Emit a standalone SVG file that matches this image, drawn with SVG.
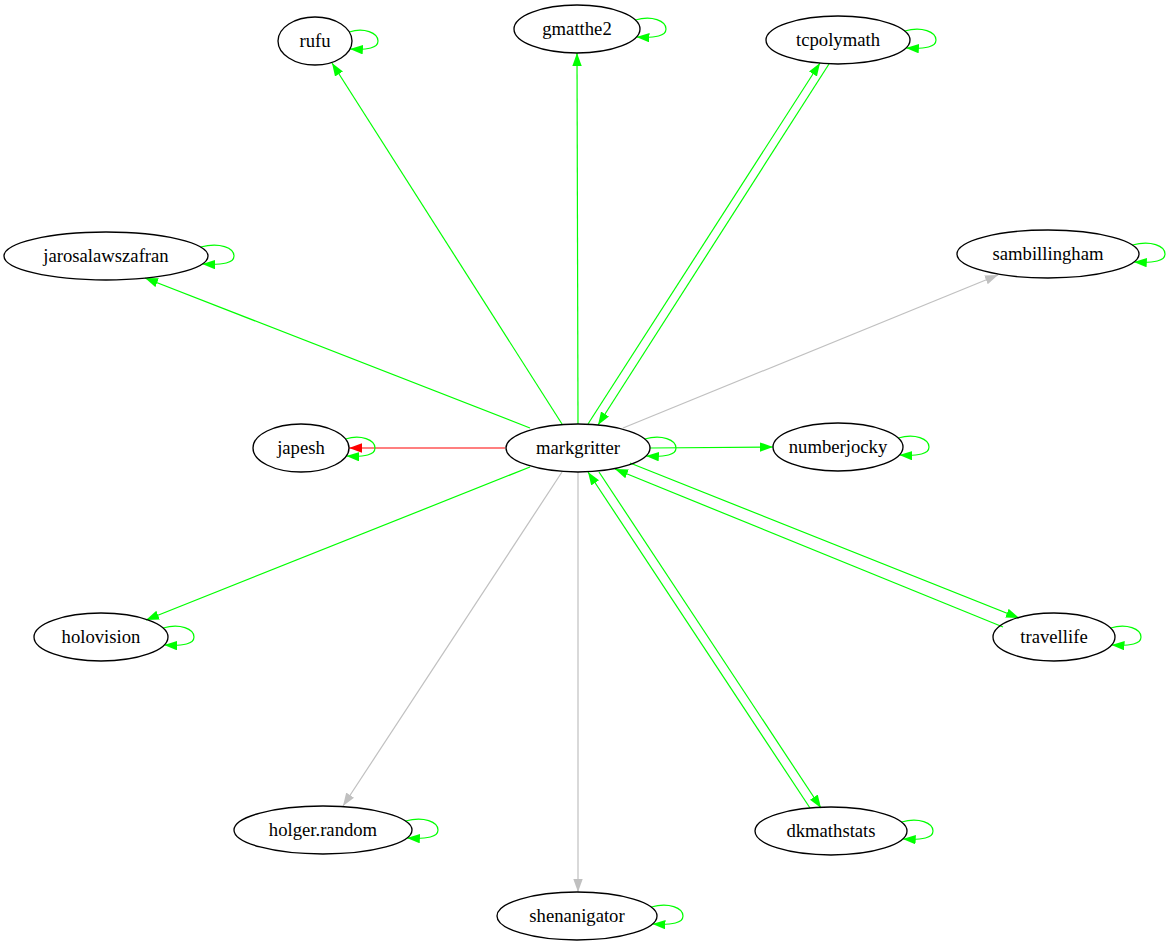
<svg xmlns="http://www.w3.org/2000/svg" width="1169" height="945" viewBox="0 0 1169 945">
<style>
.n ellipse{fill:none;stroke:#000;stroke-width:1.33}
.n text{font-family:"Liberation Serif","Times New Roman",serif;font-size:18.67px;text-anchor:middle;fill:#000}
.g{stroke:#00ff00;stroke-width:1.2;fill:none;marker-end:url(#ag)}
.r{stroke:#ff0000;stroke-width:1.2;fill:none;marker-end:url(#ar)}
.y{stroke:#c0c0c0;stroke-width:1.2;fill:none;marker-end:url(#ay)}
</style>
<defs>
<marker id="ag" markerUnits="userSpaceOnUse" markerWidth="14" markerHeight="10" refX="13" refY="4.7" orient="auto"><path d="M0,0 L13,4.7 L0,9.4 z" fill="#00ff00"/></marker>
<marker id="ar" markerUnits="userSpaceOnUse" markerWidth="14" markerHeight="10" refX="13" refY="4.7" orient="auto"><path d="M0,0 L13,4.7 L0,9.4 z" fill="#ff0000"/></marker>
<marker id="ay" markerUnits="userSpaceOnUse" markerWidth="14" markerHeight="10" refX="13" refY="4.7" orient="auto"><path d="M0,0 L13,4.7 L0,9.4 z" fill="#c0c0c0"/></marker>
</defs>
<rect width="1169" height="945" fill="#fff"/>
<g id="connectors">
<path class="g" d="M562,424 L332,63"/>
<path class="g" d="M578,424 L577,53"/>
<path class="g" d="M588,424 L820,63"/>
<path class="g" d="M829,64 L598,425"/>
<path class="g" d="M530,428 L145,278"/>
<path class="y" d="M623,428 L998,275"/>
<path class="r" d="M505,448 L349,448"/>
<path class="g" d="M650,448 L773,447"/>
<path class="g" d="M530,467 L146,620"/>
<path class="y" d="M562,472 L343,806"/>
<path class="y" d="M578,472 L578,892"/>
<path class="g" d="M599,472 L821,808"/>
<path class="g" d="M810,808 L588,472"/>
<path class="g" d="M630,463 L1019,618"/>
<path class="g" d="M1003,627 L615,469"/>
<path class="g" d="M644.7,439 C662,434 676,440 676,448 C676,455 666,457 645.9,456"/>
<path class="g" d="M345.5,439 C361,434 375,440 375,448 C375,455 365,457 346.3,456"/>
<path class="g" d="M349.3,32 C364,27 378,33 378,41 C378,48 368,50 349.9,49"/>
<path class="g" d="M635.4,20 C652,15 666,21 666,29 C666,36 656,38 636.4,37"/>
<path class="g" d="M904.7,31 C922,26 936,32 936,40 C936,47 926,49 905.9,48"/>
<path class="g" d="M200.6,247 C220,242 234,248 234,256 C234,263 224,265 202.2,264"/>
<path class="g" d="M1132.4,245 C1151,240 1165,246 1165,254 C1165,261 1155,263 1133.8,262"/>
<path class="g" d="M898.3,438 C915,433 929,439 929,447 C929,454 919,456 899.3,455"/>
<path class="g" d="M163.1,628 C180,623 194,629 194,637 C194,644 184,646 164.2,645"/>
<path class="g" d="M1110.5,628 C1127,623 1141,629 1141,637 C1141,644 1131,646 1111.5,645"/>
<path class="g" d="M405.5,821 C424,816 438,822 438,830 C438,837 428,839 406.9,838"/>
<path class="g" d="M901.5,822 C919,817 933,823 933,831 C933,838 923,840 902.7,839"/>
<path class="g" d="M651.2,907 C669,902 683,908 683,916 C683,923 673,925 652.4,924"/>
</g>
<g id="markgritter" class="n"><ellipse cx="578" cy="448" rx="72" ry="24"/><text x="578" y="454">markgritter</text></g>
<g id="japesh" class="n"><ellipse cx="301" cy="448" rx="48" ry="24"/><text x="301" y="454">japesh</text></g>
<g id="rufu" class="n"><ellipse cx="315" cy="41" rx="37" ry="24"/><text x="315" y="47">rufu</text></g>
<g id="gmatthe2" class="n"><ellipse cx="577" cy="29" rx="63" ry="24"/><text x="577" y="35">gmatthe2</text></g>
<g id="tcpolymath" class="n"><ellipse cx="838" cy="40" rx="72" ry="24"/><text x="838" y="46">tcpolymath</text></g>
<g id="jarosalawszafran" class="n"><ellipse cx="106" cy="256" rx="102" ry="24"/><text x="106" y="262">jarosalawszafran</text></g>
<g id="sambillingham" class="n"><ellipse cx="1048" cy="254" rx="91" ry="24"/><text x="1048" y="260">sambillingham</text></g>
<g id="numberjocky" class="n"><ellipse cx="838" cy="447" rx="65" ry="24"/><text x="838" y="453">numberjocky</text></g>
<g id="holovision" class="n"><ellipse cx="101" cy="637" rx="67" ry="24"/><text x="101" y="643">holovision</text></g>
<g id="travellife" class="n"><ellipse cx="1054" cy="637" rx="61" ry="24"/><text x="1054" y="643">travellife</text></g>
<g id="holger.random" class="n"><ellipse cx="323" cy="830" rx="89" ry="24"/><text x="323" y="836">holger.random</text></g>
<g id="dkmathstats" class="n"><ellipse cx="831" cy="831" rx="76" ry="24"/><text x="831" y="837">dkmathstats</text></g>
<g id="shenanigator" class="n"><ellipse cx="577" cy="916" rx="80" ry="24"/><text x="577" y="922">shenanigator</text></g>
</svg>
